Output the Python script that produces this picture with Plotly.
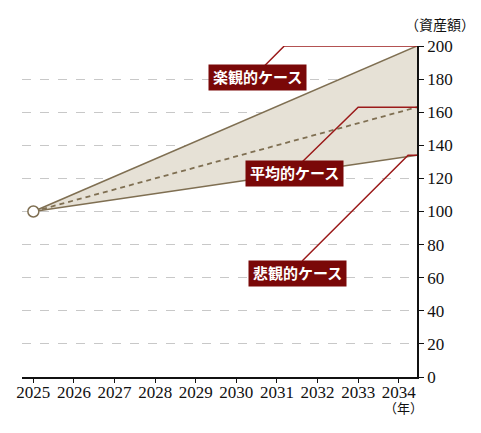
import plotly.graph_objects as go

# 資産額のシナリオ（2025年 = 100）
years = [2025, 2034.45]
optimistic = [100, 200]
average = [100, 163]
pessimistic = [100, 134]

x_ticks = list(range(2025, 2035))
y_ticks = list(range(0, 201, 20))

case_labels = ["楽観的ケース", "平均的ケース", "悲観的ケース"]

line_col = "#7f6f52"
fill_col = "#e6e1d6"
box_col = "#7a0808"
lead_col = "#9b1a1a"
font_fam = "Liberation Serif, Noto Sans CJK JP, serif"

fig = go.Figure()

fig.add_trace(go.Scatter(x=years, y=pessimistic, mode="lines",
                         line=dict(color=line_col, width=1.6), hoverinfo="skip"))
fig.add_trace(go.Scatter(x=years, y=optimistic, mode="lines", fill="tonexty",
                         fillcolor=fill_col,
                         line=dict(color=line_col, width=1.6), hoverinfo="skip"))
fig.add_trace(go.Scatter(x=years, y=average, mode="lines",
                         line=dict(color=line_col, width=1.8, dash="5px,4px"),
                         hoverinfo="skip"))
fig.add_trace(go.Scatter(x=years[:1], y=optimistic[:1], mode="markers",
                         marker=dict(size=11, color="white",
                                     line=dict(color=line_col, width=1.5)),
                         hoverinfo="skip"))

# ラベル位置と引出線の折れ点
label_pos = [(2030.52, 180.7), (2031.43, 122.7), (2031.50, 62.8)]
leader_start = [(2030.69, 187.9), (2031.62, 129.9), (2031.62, 70.1)]
leader_elbow_x = [2031.18, 2033.0, 2034.23]
end_vals = [optimistic[-1], average[-1], pessimistic[-1]]

shapes = []
annotations = []
for i, name in enumerate(case_labels):
    sx, sy = leader_start[i]
    ex = leader_elbow_x[i]
    ev = end_vals[i]
    shapes.append(dict(type="path", xref="x", yref="y",
                       path=f"M {sx},{sy} L {ex},{ev} L {years[-1]},{ev}",
                       line=dict(color=lead_col, width=1.5)))
    lx, ly = label_pos[i]
    annotations.append(dict(x=lx, y=ly, xref="x", yref="y", text=f"<b>{name}</b>",
                            showarrow=False, bgcolor=box_col, borderpad=4,
                            xanchor="center", yanchor="middle",
                            font=dict(color="white", size=15, family=font_fam)))

annotations.append(dict(x=1.058, y=1.063, xref="paper", yref="paper",
                        text="（資産額）", showarrow=False,
                        xanchor="center", yanchor="middle",
                        font=dict(size=14, color="#111", family=font_fam)))
annotations.append(dict(x=0.965, y=-0.094, xref="paper", yref="paper",
                        text="（年）", showarrow=False,
                        xanchor="center", yanchor="middle",
                        font=dict(size=13, color="#111", family=font_fam)))

fig.update_layout(
    width=481, height=433,
    margin=dict(l=22, r=64, t=46, b=56),
    paper_bgcolor="white", plot_bgcolor="white",
    showlegend=False,
    shapes=shapes,
    annotations=annotations,
    font=dict(family=font_fam, size=16, color="#111"),
    xaxis=dict(range=[2024.72, years[-1]], tickvals=x_ticks,
               showgrid=False, zeroline=False,
               showline=True, linecolor="#111", linewidth=1.5,
               ticks="outside", ticklen=4, tickcolor="#111",
               ticklabelstandoff=-5,
               tickfont=dict(size=17, color="#111")),
    yaxis=dict(range=[0, 200], tickvals=y_ticks, side="right",
               showgrid=True, gridcolor="#c8c8c8", griddash="dash",
               zeroline=False,
               showline=True, linecolor="#111", linewidth=1.5,
               ticks="outside", ticklen=5, tickcolor="#111",
               tickfont=dict(size=17, color="#111")),
)

fig.write_html("out.html", config={"displayModeBar": False},
               post_script="document.body.style.margin='0';")
